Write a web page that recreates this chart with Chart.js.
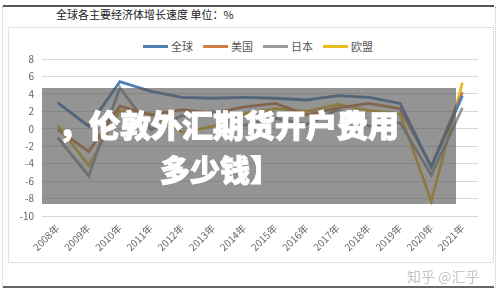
<!DOCTYPE html>
<html>
<head>
<meta charset="utf-8">
<script src="https://cdn.jsdelivr.net/npm/chart.js@4.4.1/dist/chart.umd.min.js"></script>
<style>
  html, body { margin: 0; padding: 0; background: #fff; }
  body { width: 500px; height: 294px; position: relative; overflow: hidden;
         font-family: "Noto Sans CJK SC", "Noto Sans", sans-serif; }
  #chart { position: absolute; left: 0; top: 0; }
  .abs { position: absolute; }
  #topLine { left: 3px; top: 5px; width: 491px; height: 2px; background: #555; }
  #botLine { left: 3px; top: 286px; width: 491px; height: 2px; background: #666; }
  #leftDot { left: 2px; top: 6px; height: 282px; border-left: 1px dotted #c8c8c8; }
  #rightDot { left: 495px; top: 6px; height: 282px; border-left: 1px dotted #c8c8c8; }
  #frame { left: 8px; top: 27px; width: 484px; height: 234px; border: 1px solid #e2e2e2; }
  #title { left: 56px; top: 6px; font-size: 11px; color: #222; white-space: nowrap; }
  #legend { left: 143px; top: 38px; display: flex; gap: 10px; font-size: 11px; color: #595959; }
  #legend .item { display: flex; align-items: center; gap: 3px; }
  #legend .swatch { width: 25px; height: 3px; }
  #mask { left: 42px; top: 88px; width: 414px; height: 116px; background: rgba(85,85,85,0.63); }
  .big { color: #fff; font-weight: 900; font-size: 31px; white-space: nowrap; line-height: 1;
         -webkit-text-stroke: 1px #fff; }
  #line1 { left: 58px; top: 108px; }
  #line2 { left: 160px; top: 153px; font-size: 30px; }
  #zhihu { left: 407px; top: 266px; font-size: 14px; color: #c4c4c4; white-space: nowrap; }
</style>
</head>
<body>
<div class="abs" id="leftDot"></div>
<div class="abs" id="rightDot"></div>
<div class="abs" id="topLine"></div>
<div class="abs" id="frame"></div>
<div class="abs" id="title">全球各主要经济体增长速度 单位：%</div>
<div class="abs" id="legend"></div>
<canvas id="chart" width="500" height="294"></canvas>
<div class="abs" id="mask"></div>
<div class="abs big" id="line1">，伦敦外汇期货开户费用</div>
<div class="abs big" id="line2">多少钱】</div>
<div class="abs" id="zhihu">知乎 @汇乎</div>
<div class="abs" id="botLine"></div>

<script>
// data
const years = ["2008年","2009年","2010年","2011年","2012年","2013年","2014年",
               "2015年","2016年","2017年","2018年","2019年","2020年","2021年"];
const world = [3.0, 0.3, 5.4, 4.3, 3.6, 3.5, 3.6, 3.5, 3.3, 3.8, 3.6, 2.9, -4.4, 3.8];
const usa   = [-0.1, -2.6, 2.6, 1.6, 2.2, 1.8, 2.5, 2.9, 1.6, 2.4, 2.9, 2.3, -4.3, 4.2];
const japan = [-1.0, -5.4, 4.7, -0.1, 1.5, 2.0, 0.4, 1.2, 0.5, 2.2, 0.3, 0.7, -5.3, 2.4];
const eu    = [0.4, -4.2, 2.1, 1.7, -0.4, 0.3, 1.7, 2.3, 2.0, 2.8, 2.1, 1.7, -8.3, 5.3];

const seriesNames = ["全球", "美国", "日本", "欧盟"];
const seriesColors = ["#4f7fb3", "#d07f45", "#9a9a9a", "#e8bd22"];
const seriesData = [world, usa, japan, eu];

// legend (html)
const legendEl = document.getElementById("legend");
legendEl.innerHTML = seriesNames.map((n, i) =>
  `<div class="item"><span class="swatch" style="background:${seriesColors[i]}"></span><span>${n}</span></div>`
).join("");

const fontFam = '"Noto Sans CJK SC", "Noto Sans", sans-serif';

new Chart(document.getElementById("chart").getContext("2d"), {
  type: "line",
  data: {
    labels: years,
    datasets: seriesData.map((d, i) => ({
      label: seriesNames[i], data: d,
      borderColor: seriesColors[i], backgroundColor: seriesColors[i],
      borderWidth: 2.8, pointRadius: 0, tension: 0, fill: false
    }))
  },
  options: {
    responsive: false,
    animation: false,
    layout: { padding: { top: 59, right: 22, left: 0, bottom: 0 } },
    plugins: { legend: { display: false }, title: { display: false }, tooltip: { enabled: false } },
    scales: {
      y: {
        min: -10, max: 8,
        ticks: { stepSize: 2, color: "#666", font: { size: 10, family: fontFam }, padding: 8 },
        grid: { color: "#d9d9d9", drawTicks: false },
        border: { display: false },
        afterFit: s => { s.width = 42; }
      },
      x: {
        offset: true,
        grid: { display: false, drawTicks: false },
        border: { display: false },
        ticks: { minRotation: 45, maxRotation: 45, color: "#666", font: { size: 10, family: fontFam }, padding: 6 },
        afterFit: s => { s.height = 78; }
      }
    }
  }
});
</script>
</body>
</html>
